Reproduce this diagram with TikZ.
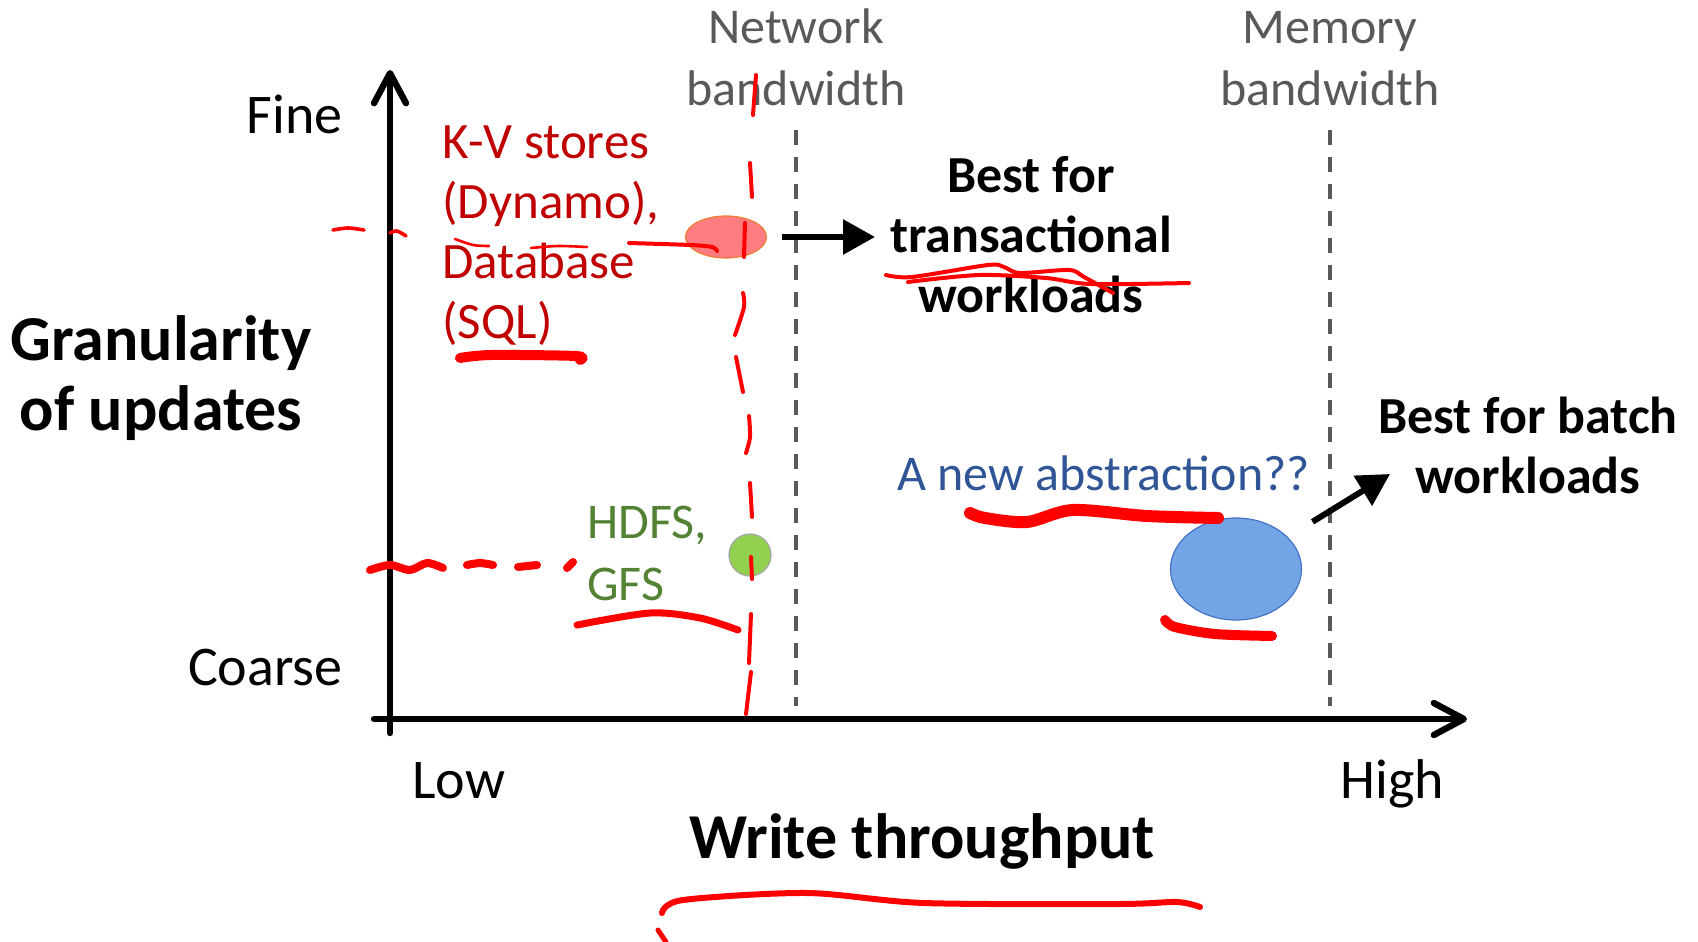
\documentclass[tikz,border=0pt]{standalone}
\usepackage{fontspec}
\setmainfont{Carlito}
\usetikzlibrary{arrows.meta,shapes.geometric}
\definecolor{inkred}{HTML}{FF0000}
\definecolor{kvred}{HTML}{C00000}
\definecolor{bwgray}{HTML}{595959}
\definecolor{fsgreen}{HTML}{548235}
\definecolor{absblue}{HTML}{2F5597}
\definecolor{kvfill}{HTML}{FF7C80}
\definecolor{kvedge}{HTML}{ED7D31}
\definecolor{fsfill}{HTML}{92D050}
\definecolor{fsedge}{HTML}{A5A5A5}
\definecolor{absfill}{HTML}{72A4E6}
\definecolor{absedge}{HTML}{4472C4}
\begin{document}
\begin{tikzpicture}[x=0.5pt,y=-0.5pt,
        axis/.style={line width=3.2pt, line cap=round, -{Straight Barb[length=15pt,width=16pt,line cap=round,line join=round]}},
        limit/.style={draw=bwgray, line width=1.8pt, dash pattern=on 7.5pt off 6pt},
        pointer/.style={line width=3pt, -{Triangle[length=16pt,width=17pt]}},
        tick/.style={inner sep=0, font=\fontsize{28pt}{34pt}\selectfont},
        bwlbl/.style={inner sep=0, text=bwgray, align=center, font=\fontsize{25pt}{31pt}\selectfont},
        best/.style={inner sep=0, align=center, font=\fontsize{26pt}{30pt}\selectfont\bfseries},
        ink/.style={draw=inkred, line cap=round, line join=round}
    ]
    \useasboundingbox (0,0) rectangle (1698,942);

    % axes
    \draw[axis] (390,733) -- (390,70);
    \draw[axis] (374,719) -- (1467,719);
    \node[tick, anchor=base east] (fine) at (343,133) {Fine};
    \node[tick, anchor=base east] (coarse) at (343,685) {Coarse};
    \node[tick, anchor=base west] (low) at (412,798) {Low};
    \node[tick, anchor=base west] (high) at (1340,798) {High};
    \node[inner sep=0, anchor=base, font=\fontsize{32pt}{36pt}\selectfont\bfseries] (xlbl) at (922,858) {Write throughput};
    \node[inner sep=0, anchor=base, align=center, font=\fontsize{32pt}{35pt}\selectfont\bfseries] (ylbl) at (161,430) {Granularity\\of updates};

    % bandwidth limits
    \node[bwlbl, anchor=base] (netbw) at (796,105) {Network\\bandwidth};
    \node[bwlbl, anchor=base] (membw) at (1330,105) {Memory\\bandwidth};
    \draw[limit] (796,130) -- (796,706);
    \draw[limit] (1330,130) -- (1330,706);

    % systems
    \node[inner sep=0, anchor=base west, align=left, text=kvred, font=\fontsize{25.5pt}{30pt}\selectfont] (kvlbl) at (442,338) {K-V stores\\(Dynamo),\\Database\\(SQL)};
    \node[ellipse, draw=kvedge, line width=0.6pt, fill=kvfill, minimum width=40.5pt, minimum height=21pt, inner sep=0] (kvdot) at (726,237) {};
    \node[inner sep=0, anchor=base west, align=left, text=fsgreen, font=\fontsize{25pt}{31pt}\selectfont] (fslbl) at (587,600) {HDFS,\\GFS};
    \node[circle, draw=fsedge, line width=0.6pt, fill=fsfill, minimum size=21pt, inner sep=0] (fsdot) at (750,555) {};
    \node[inner sep=0, anchor=base west, text=absblue, font=\fontsize{25pt}{30pt}\selectfont] (abslbl) at (897,490) {A new abstraction??};
    \node[ellipse, draw=absedge, line width=0.6pt, fill=absfill, minimum width=65.5pt, minimum height=51pt, inner sep=0] (absdot) at (1236,569) {};

    \node[best, anchor=base] (txlbl) at (1031,312) {Best for\\transactional\\workloads};
    \node[best, anchor=base] (batchlbl) at (1528,493) {Best for batch\\workloads};
    \coordinate (txtip) at (875,237);
    \coordinate (batchtip) at (1390,474);
    \draw[pointer, shorten <=7.5pt] (kvdot) -- (txtip);
    \draw[pointer, shorten <=14.5pt] (absdot) -- (batchtip);

    % red pen marks
    \foreach \seg in {{(756,75) (753,115)}, {(750,163) (752,197)}, {(745,223) (744,257)},
            {(743,293) (744,307) (735,335)}, {(736,357) (743,392)}, {(749,416) (750,437) (746,453)},
            {(750,483) (752,517)}, {(751,557) (752,579)}, {(751,614) (749,663)}, {(751,672) (746,714)}}
        \draw[ink, line width=2pt] plot[smooth] coordinates {\seg};
    \draw[ink, line width=1.8pt] plot[smooth] coordinates {(333,230) (348,228) (364,230)};
    \draw[ink, line width=1.8pt] plot[smooth] coordinates {(390,233) (397,231) (406,236)};
    \draw[ink, line width=1.3pt] plot[smooth] coordinates {(455,239) (473,245) (489,246)};
    \draw[ink, line width=1.3pt] plot[smooth] coordinates {(531,248) (558,246) (587,247)};
    \draw[ink, line width=2pt] plot[smooth] coordinates {(629,243) (690,245) (712,247) (717,251)};
    \draw[ink, line width=5pt] plot[smooth] coordinates {(460,358) (491,355) (576,356) (580,360)};
    \foreach \seg in {{(370,570) (390,565) (410,570) (427,563) (443,568)}, {(467,565) (480,563) (493,565)},
            {(518,567) (537,565)}, {(567,568) (573,562)}}
        \draw[ink, line width=4pt] plot[smooth] coordinates {\seg};
    \draw[ink, line width=3.5pt] plot[smooth] coordinates {(577,625) (650,613) (700,618) (738,630)};
    \draw[ink, line width=2pt] plot[smooth] coordinates {(886,275) (912,277) (988,265) (1004,267) (1020,273) (1069,270) (1084,277) (1113,293)};
    \draw[ink, line width=2pt] plot[smooth] coordinates {(908,282) (979,275) (1046,278) (1091,284) (1189,283)};
    \draw[ink, line width=6pt] plot[smooth] coordinates {(970,513) (985,518) (1027,522) (1073,510) (1147,516) (1218,518)};
    \draw[ink, line width=5pt] plot[smooth] coordinates {(1165,620) (1175,627) (1215,634) (1272,636)};
    \draw[ink, line width=3pt] plot[smooth] coordinates {(662,913) (683,900) (807,893) (924,903) (1119,904) (1177,902) (1200,907)};
    \draw[ink, line width=2.5pt] (658,930) -- (666,942);
\end{tikzpicture}
\end{document}
